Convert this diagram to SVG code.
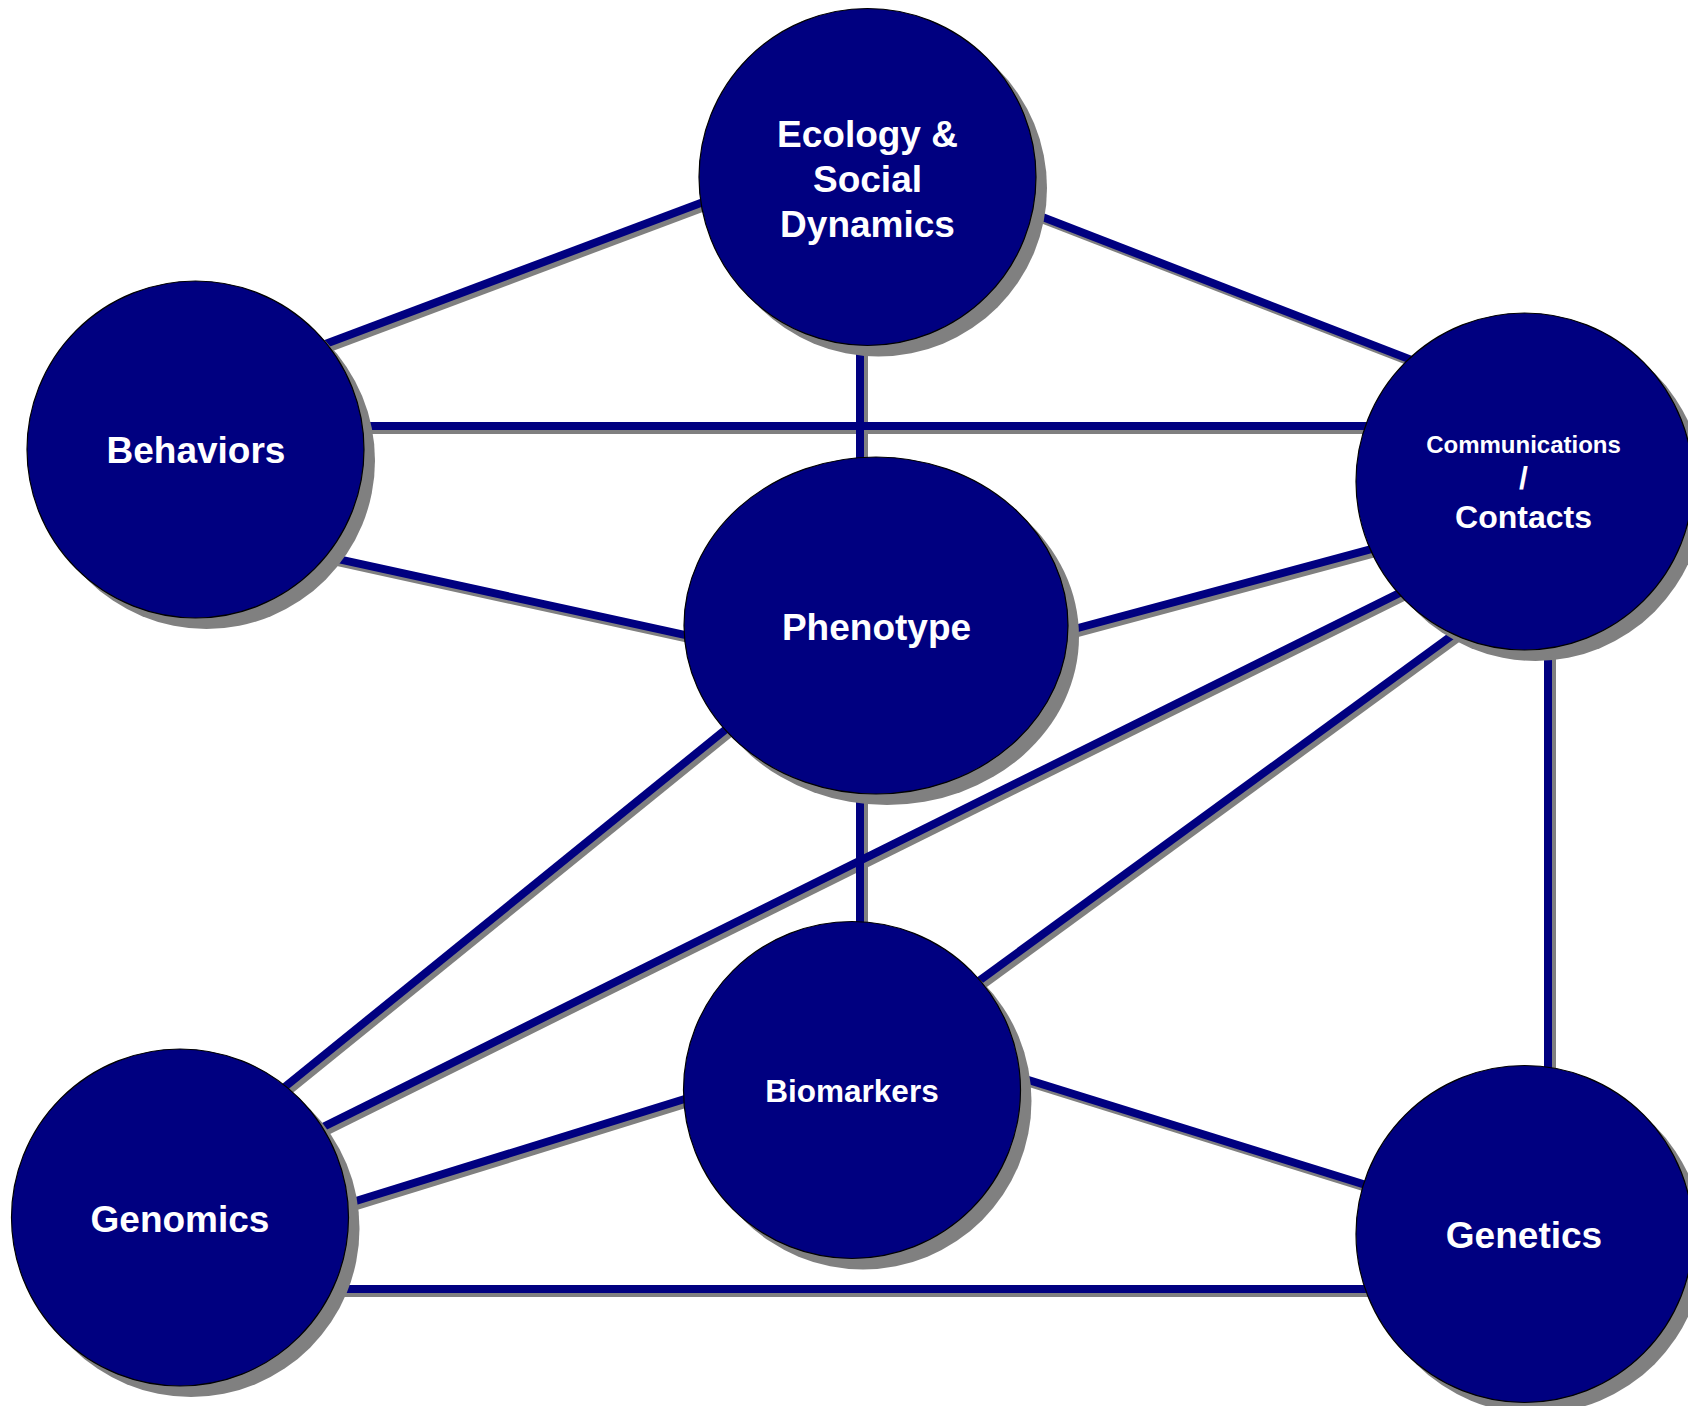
<svg xmlns="http://www.w3.org/2000/svg" width="1688" height="1406" viewBox="0 0 1688 1406">
<style>
.bg{fill:#ffffff}
.ls{stroke:#808080;stroke-width:8;fill:none}
.ln{stroke:#000080;stroke-width:8;fill:none}
.sh{fill:#808080}
.nd{fill:#000080;stroke:#000000;stroke-width:1.2}
.t{font-family:"Liberation Sans",Arial,sans-serif;font-weight:bold;fill:#ffffff;text-anchor:middle}
</style>
<defs>
<g id="edges">
<line x1="300" y1="353.6" x2="730" y2="191.9"/>
<line x1="1010" y1="204.5" x2="1440" y2="371"/>
<line x1="860" y1="320" x2="860" y2="480"/>
<line x1="340" y1="426" x2="1390" y2="426"/>
<line x1="320" y1="555.2" x2="720" y2="642.6"/>
<line x1="1050" y1="635.5" x2="1400" y2="541.4"/>
<line x1="760" y1="701.6" x2="250" y2="1115.2"/>
<line x1="1550" y1="1289" x2="320" y2="1289"/>
<line x1="1548" y1="630" x2="1548" y2="1090"/>
<line x1="860" y1="770" x2="860" y2="940"/>
<line x1="1430" y1="577.9" x2="280" y2="1148.3"/>
<line x1="1480" y1="615" x2="950" y2="1002"/>
<line x1="700" y1="1094.3" x2="330" y2="1209"/>
<line x1="1000" y1="1071.2" x2="1380" y2="1189.4"/>
</g>
</defs>
<rect class="bg" x="0" y="0" width="1688" height="1406"/>
<g id="connectors">
<use href="#edges" class="ls" transform="translate(4,4)"/>
<use href="#edges" class="ln"/>
</g>
<g id="node-ecology">
<circle class="sh" cx="878.5" cy="188" r="168.5"/>
<circle class="nd" cx="867.5" cy="177" r="168.5"/>
<text class="t" font-size="37"><tspan x="867.5" y="147">Ecology &amp;</tspan><tspan x="867.5" y="192">Social</tspan><tspan x="867.5" y="237">Dynamics</tspan></text>
</g>
<g id="node-behaviors">
<circle class="sh" cx="206.5" cy="460.5" r="168.5"/>
<circle class="nd" cx="195.5" cy="449.5" r="168.5"/>
<text class="t" font-size="37" x="196" y="463">Behaviors</text>
</g>
<g id="node-communications">
<circle class="sh" cx="1535.5" cy="492.5" r="168.5"/>
<circle class="nd" cx="1524.5" cy="481.5" r="168.5"/>
<text class="t" font-size="24" x="1523.5" y="453">Communications</text>
<text class="t" font-size="32" x="1523.5" y="489">/</text>
<text class="t" font-size="32" x="1523.5" y="528">Contacts</text>
</g>
<g id="node-phenotype">
<ellipse class="sh" cx="887" cy="636.5" rx="192" ry="168.5"/>
<ellipse class="nd" cx="876" cy="625.5" rx="192" ry="168.5"/>
<text class="t" font-size="37" x="876.5" y="640">Phenotype</text>
</g>
<g id="node-biomarkers">
<circle class="sh" cx="863" cy="1101" r="168.5"/>
<circle class="nd" cx="852" cy="1090" r="168.5"/>
<text class="t" font-size="31.5" x="852" y="1102">Biomarkers</text>
</g>
<g id="node-genomics">
<circle class="sh" cx="191" cy="1228.5" r="168.5"/>
<circle class="nd" cx="180" cy="1217.5" r="168.5"/>
<text class="t" font-size="37" x="180" y="1232">Genomics</text>
</g>
<g id="node-genetics">
<circle class="sh" cx="1535.5" cy="1245" r="168.5"/>
<circle class="nd" cx="1524.5" cy="1234" r="168.5"/>
<text class="t" font-size="37" x="1524" y="1248">Genetics</text>
</g>
</svg>
